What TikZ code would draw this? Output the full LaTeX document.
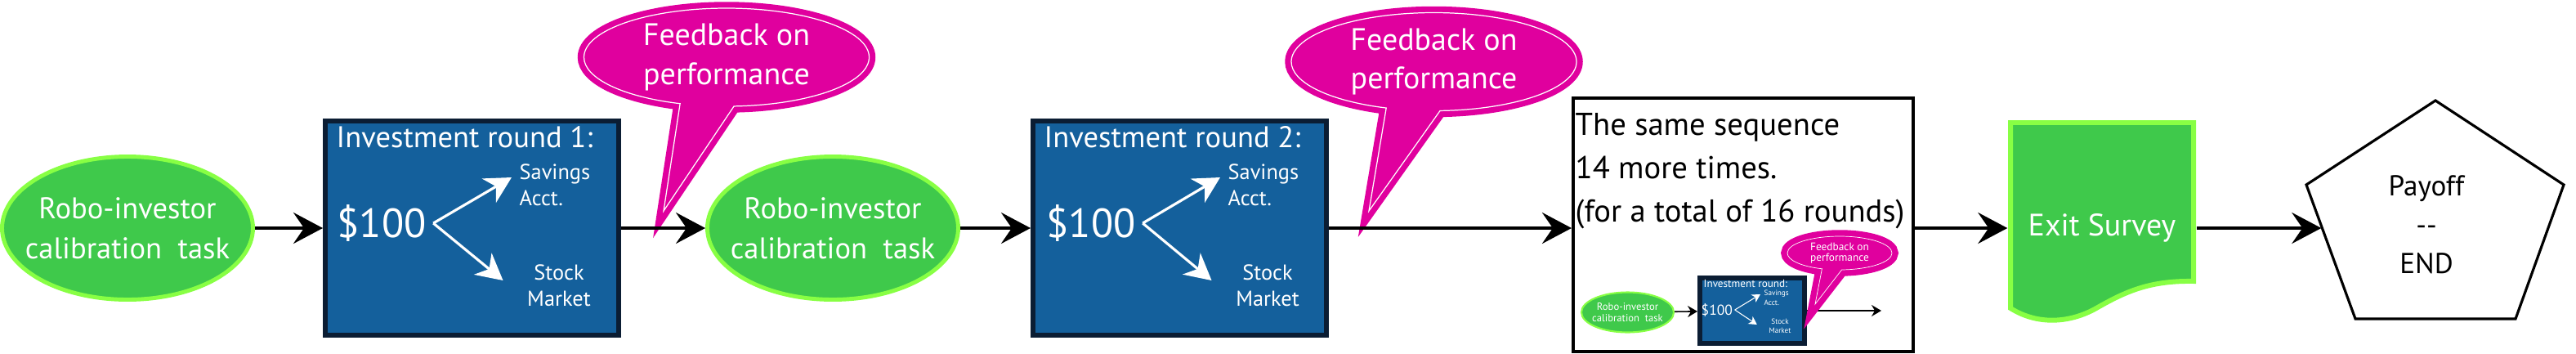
\documentclass[tikz,border=0pt]{standalone}
\usepackage{fontspec}
\setmainfont{PT Sans}
\usetikzlibrary{shapes.geometric, shapes.callouts, arrows.meta, positioning}
\definecolor{taskgreen}{HTML}{3FC94B}
\definecolor{limegreen}{HTML}{88FF44}
\definecolor{roundblue}{HTML}{14609C}
\definecolor{roundnavy}{HTML}{0B1D33}
\definecolor{fbmagenta}{HTML}{E0009E}

\begin{document}
\begin{tikzpicture}[>={Stealth[length=0.36cm,width=0.38cm,inset=0.13cm]},
  flow/.style={->, line width=1.2pt},
  task/.style={ellipse, fill=taskgreen, draw=limegreen, line width=1.4pt, text=white, align=center,
    inner sep=0pt, inner xsep=-0.3cm, minimum width=3.07cm, minimum height=1.75cm,
    font=\fontsize{10.4}{14}\selectfont},
  roundbox/.style={rectangle, fill=roundblue, draw=roundnavy, line width=1.7pt,
    minimum width=3.59cm, minimum height=2.62cm},
  boxtext/.style={text=white, inner sep=0pt},
  money/.style={draw=white, line width=0.9pt, -{Stealth[length=0.32cm,width=0.34cm,inset=0.1cm]}},
  feedback/.style={ellipse callout, fill=fbmagenta, preaction={draw=fbmagenta, line width=4.4pt},
    draw=white, line width=0.35pt, text=white, align=center, inner sep=0pt, callout pointer arc=22,
    minimum width=3.49cm, minimum height=1.2cm, font=\fontsize{10.8}{13.4}\selectfont}]
\useasboundingbox (0,0) rectangle (31.52,4.32);

% round 1
\node[task] (t1) at (1.56,1.53) {Robo-investor\\calibration~~task};
\node[roundbox] (r1) at (5.775,1.53) {};
\node[boxtext, anchor=base west, font=\fontsize{10.4}{12}\selectfont] (n1) at (4.11,2.52) {Investment round 1:};
\node[boxtext, anchor=west, font=\fontsize{14.2}{16}\selectfont] (d1) at (4.12,1.59) {\$100};
\node[boxtext, anchor=west, align=left, font=\fontsize{7.5}{9.1}\selectfont] (s1) at (6.35,2.06) {Savings\\Acct.};
\node[boxtext, align=center, font=\fontsize{7.5}{9.1}\selectfont] (k1) at (6.84,0.83) {Stock\\Market};
\draw[money] ([xshift=0.08cm]d1.east) -- ([xshift=-0.09cm,yshift=0.09cm]s1.west);
\draw[money] ([xshift=0.08cm]d1.east) -- ([xshift=-0.29cm,yshift=0.06cm]k1.west);
\draw[flow] (t1) -- (r1);

% feedback 1
\node[feedback, callout absolute pointer={(8.12,1.74)}] (fb1) at (8.89,3.62) {Feedback on\\performance};

% round 2
\node[task] (t2) at (10.19,1.53) {Robo-investor\\calibration~~task};
\draw[flow] (r1) -- (t2);
\node[roundbox] (r2) at (14.435,1.53) {};
\node[boxtext, anchor=base west, font=\fontsize{10.4}{12}\selectfont] (n2) at (12.77,2.52) {Investment round 2:};
\node[boxtext, anchor=west, font=\fontsize{14.2}{16}\selectfont] (d2) at (12.80,1.59) {\$100};
\node[boxtext, anchor=west, align=left, font=\fontsize{7.5}{9.1}\selectfont] (s2) at (15.02,2.06) {Savings\\Acct.};
\node[boxtext, align=center, font=\fontsize{7.5}{9.1}\selectfont] (k2) at (15.51,0.83) {Stock\\Market};
\draw[money] ([xshift=0.08cm]d2.east) -- ([xshift=-0.09cm,yshift=0.09cm]s2.west);
\draw[money] ([xshift=0.08cm]d2.east) -- ([xshift=-0.29cm,yshift=0.06cm]k2.west);
\draw[flow] (t2) -- (r2);

% feedback 2
\node[feedback, callout absolute pointer={(16.75,1.74)}] (fb2) at (17.545,3.565) {Feedback on\\performance};

% the other 14 rounds
\node[draw, line width=1.15pt, minimum width=4.16cm, minimum height=3.10cm] (rest) at (21.33,1.57) {};
\draw[flow] (r2.east) -- (r2.east -| rest.west);
\node[anchor=north west, align=left, inner sep=0pt, font=\fontsize{11}{15}\selectfont] (seq) at (19.27,2.94)
  {The same sequence\\14 more times.\\(for a total of 16 rounds)};

% small copy of one round
\node[task, line width=0.6pt, inner xsep=-0.1cm, minimum width=1.13cm, minimum height=0.49cm,
  font=\fontsize{3.6}{4.1}\selectfont] (mt) at (19.915,0.50) {Robo-investor\\calibration~~task};
\node[roundbox, minimum width=1.28cm, minimum height=0.80cm] (mr) at (21.44,0.52) {};
\node[boxtext, anchor=base west, font=\fontsize{3.75}{4}\selectfont] (mn) at (20.84,0.81) {Investment round:};
\node[boxtext, anchor=west, font=\fontsize{5}{6}\selectfont] (md) at (20.81,0.53) {\$100};
\node[boxtext, anchor=west, align=left, font=\fontsize{2.6}{3.4}\selectfont] (ms) at (21.58,0.68) {Savings\\Acct.};
\node[boxtext, align=center, font=\fontsize{2.6}{3.2}\selectfont] (mk) at (21.78,0.33) {Stock\\Market};
\draw[draw=white, line width=0.3pt, -{Stealth[length=0.1cm,width=0.11cm,inset=0.03cm]}]
  ([xshift=0.02cm]md.east) -- ([xshift=-0.04cm,yshift=0.04cm]ms.west);
\draw[draw=white, line width=0.3pt, -{Stealth[length=0.1cm,width=0.11cm,inset=0.03cm]}]
  ([xshift=0.02cm]md.east) -- ([xshift=-0.14cm,yshift=0.02cm]mk.west);
\coordinate (mend) at (23.02,0.52);
\draw[line width=0.45pt, -{Stealth[length=0.12cm,width=0.14cm,inset=0.04cm]}] (mt) -- (mr);
\draw[line width=0.45pt, -{Stealth[length=0.12cm,width=0.14cm,inset=0.04cm]}] (mr.east) -- (mend);
\node[feedback, preaction={draw=fbmagenta, line width=1.7pt}, line width=0.2pt, callout absolute pointer={(22.21,0.60)},
  minimum width=1.28cm, minimum height=0.41cm, font=\fontsize{3.8}{3.8}\selectfont] (mfb) at (22.51,1.225) {Feedback on\\performance};

% exit survey
\node[text=white, minimum width=2.30cm, font=\fontsize{10.8}{13}\selectfont] (exit) at (25.72,1.53) {Exit Survey};
\draw[fill=taskgreen, draw=limegreen, line width=1.7pt] (24.60,2.82) -- (26.84,2.82) -- (26.84,0.88)
  .. controls (26.3,0.89) and (26.0,0.75) .. (25.65,0.55)
  .. controls (25.35,0.38) and (24.95,0.33) .. (24.60,0.55) -- cycle;
\node[text=white, font=\fontsize{10.8}{13}\selectfont] at (exit) {Exit Survey};
\draw[flow] (rest.east |- exit.west) -- (exit.west);

% payoff
\draw[line width=0.9pt, fill=white] (29.80,3.09) -- (31.37,2.06) -- (30.78,0.42) -- (28.82,0.42) -- (28.22,2.06) -- cycle;
\node[align=center, minimum width=2.56cm, font=\fontsize{10}{13.5}\selectfont] (pay) at (29.69,1.57) {Payoff\\-{}-\\END};
\draw[flow] (exit.east) -- (exit.east -| pay.west);
\end{tikzpicture}
\end{document}
